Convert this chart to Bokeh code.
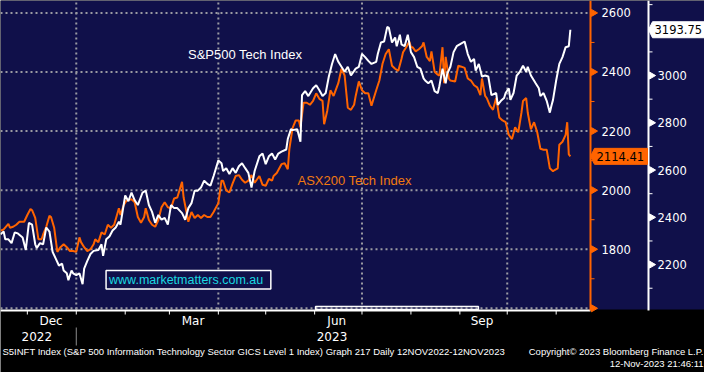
import math
import datetime as dt
from bokeh.plotting import figure
from bokeh.models import Range1d
from bokeh.core.properties import value
from bokeh.embed import file_html
from bokeh.resources import INLINE

# ---------------- data ----------------
asx_dates = [
    "2022-11-14", "2022-11-16", "2022-11-19", "2022-11-20", "2022-11-22", "2022-11-24", "2022-11-26", "2022-11-29",
    "2022-12-01", "2022-12-03", "2022-12-04", "2022-12-06", "2022-12-08", "2022-12-10", "2022-12-11", "2022-12-13",
    "2022-12-15", "2022-12-16", "2022-12-18", "2022-12-20", "2022-12-22", "2022-12-24", "2022-12-26", "2022-12-28",
    "2022-12-30", "2023-01-01", "2023-01-03", "2023-01-04", "2023-01-06", "2023-01-08", "2023-01-10", "2023-01-12",
    "2023-01-13", "2023-01-15", "2023-01-17", "2023-01-19", "2023-01-21", "2023-01-23", "2023-01-25", "2023-01-28",
    "2023-01-29", "2023-01-31", "2023-02-02", "2023-02-05", "2023-02-07", "2023-02-09", "2023-02-11", "2023-02-13",
    "2023-02-14", "2023-02-16", "2023-02-18", "2023-02-20", "2023-02-22", "2023-02-24", "2023-02-26", "2023-02-28",
    "2023-03-02", "2023-03-04", "2023-03-06", "2023-03-09", "2023-03-10", "2023-03-13", "2023-03-15", "2023-03-17",
    "2023-03-19", "2023-03-21", "2023-03-23", "2023-03-25", "2023-03-27", "2023-03-29", "2023-04-01", "2023-04-03",
    "2023-04-04", "2023-04-06", "2023-04-08", "2023-04-10", "2023-04-12", "2023-04-14", "2023-04-16", "2023-04-18",
    "2023-04-20", "2023-04-22", "2023-04-24", "2023-04-27", "2023-04-29", "2023-05-01", "2023-05-03", "2023-05-05",
    "2023-05-06", "2023-05-08", "2023-05-11", "2023-05-13", "2023-05-15", "2023-05-16", "2023-05-18", "2023-05-20",
    "2023-05-22", "2023-05-23", "2023-05-25", "2023-05-27", "2023-05-29", "2023-05-31", "2023-06-02", "2023-06-04",
    "2023-06-06", "2023-06-07", "2023-06-09", "2023-06-11", "2023-06-13", "2023-06-16", "2023-06-18", "2023-06-20",
    "2023-06-22", "2023-06-24", "2023-06-26", "2023-06-27", "2023-06-29", "2023-07-01", "2023-07-03", "2023-07-05",
    "2023-07-07", "2023-07-10", "2023-07-12", "2023-07-14", "2023-07-16", "2023-07-18", "2023-07-20", "2023-07-22",
    "2023-07-24", "2023-07-26", "2023-07-27", "2023-07-29", "2023-07-31", "2023-08-01", "2023-08-02", "2023-08-04",
    "2023-08-06", "2023-08-08", "2023-08-09", "2023-08-11", "2023-08-13", "2023-08-14", "2023-08-16", "2023-08-18",
    "2023-08-19", "2023-08-21", "2023-08-22", "2023-08-23", "2023-08-25", "2023-08-26", "2023-08-29", "2023-08-31",
    "2023-09-02", "2023-09-04", "2023-09-06", "2023-09-08", "2023-09-10", "2023-09-12", "2023-09-14", "2023-09-15",
    "2023-09-17", "2023-09-18", "2023-09-20", "2023-09-22", "2023-09-24", "2023-09-26", "2023-09-28", "2023-09-30",
    "2023-10-02", "2023-10-04", "2023-10-06", "2023-10-08", "2023-10-10", "2023-10-11", "2023-10-13", "2023-10-14",
    "2023-10-16", "2023-10-18", "2023-10-20", "2023-10-22", "2023-10-24", "2023-10-26", "2023-10-28", "2023-10-30",
    "2023-10-31", "2023-11-02", "2023-11-03", "2023-11-05", "2023-11-07", "2023-11-08", "2023-11-09", "2023-11-10",
]
asx_values = [
    1863, 1867, 1886, 1873, 1876, 1883, 1893, 1893,
    1916, 1936, 1932, 1906, 1834, 1834, 1850, 1876,
    1913, 1909, 1873, 1791, 1807, 1817, 1807, 1794,
    1794, 1791, 1840, 1824, 1807, 1794, 1800, 1817,
    1834, 1824, 1857, 1850, 1883, 1873, 1883, 1939,
    1916, 1949, 1966, 1969, 1959, 1909, 1890, 1909,
    1939, 1899, 1883, 1876, 1899, 1942, 1959, 1942,
    1939, 1972, 1975, 2028, 1975, 1893, 1926, 1906,
    1916, 1906, 1916, 1909, 1909, 1926, 1956, 2032,
    2032, 1999, 1992, 2022, 2048, 2051, 2035, 2025,
    2032, 2051, 2025, 2048, 2018, 2015, 2038, 2032,
    2048, 2058, 2088, 2091, 2071, 2140, 2210, 2236,
    2236, 2213, 2296, 2296, 2289, 2302, 2328, 2309,
    2302, 2223, 2269, 2338, 2319, 2362, 2411, 2388,
    2279, 2272, 2289, 2319, 2368, 2338, 2328, 2328,
    2286, 2338, 2371, 2428, 2461, 2477, 2421, 2411,
    2404, 2444, 2467, 2484, 2503, 2484, 2484, 2470,
    2477, 2487, 2500, 2451, 2437, 2470, 2401, 2391,
    2388, 2484, 2362, 2451, 2378, 2371, 2368, 2421,
    2418, 2414, 2378, 2371, 2355, 2348, 2322, 2378,
    2319, 2312, 2286, 2272, 2312, 2246, 2236, 2230,
    2187, 2173, 2213, 2196, 2262, 2302, 2312, 2262,
    2206, 2230, 2196, 2140, 2137, 2137, 2074, 2064,
    2068, 2074, 2154, 2164, 2187, 2230, 2121, 2114.41,
]

spx_dates = [
    "2022-11-14", "2022-11-16", "2022-11-17", "2022-11-19", "2022-11-21", "2022-11-23", "2022-11-25", "2022-11-28",
    "2022-11-30", "2022-12-02", "2022-12-04", "2022-12-06", "2022-12-07", "2022-12-09", "2022-12-11", "2022-12-13",
    "2022-12-15", "2022-12-17", "2022-12-19", "2022-12-21", "2022-12-23", "2022-12-24", "2022-12-26", "2022-12-27",
    "2022-12-29", "2022-12-30", "2023-01-01", "2023-01-03", "2023-01-05", "2023-01-06", "2023-01-08", "2023-01-10",
    "2023-01-12", "2023-01-15", "2023-01-17", "2023-01-18", "2023-01-20", "2023-01-22", "2023-01-24", "2023-01-26",
    "2023-01-28", "2023-01-29", "2023-02-01", "2023-02-03", "2023-02-05", "2023-02-07", "2023-02-09", "2023-02-12",
    "2023-02-14", "2023-02-16", "2023-02-18", "2023-02-20", "2023-02-22", "2023-02-24", "2023-02-26", "2023-02-28",
    "2023-03-02", "2023-03-04", "2023-03-06", "2023-03-09", "2023-03-11", "2023-03-13", "2023-03-15", "2023-03-17",
    "2023-03-19", "2023-03-21", "2023-03-23", "2023-03-25", "2023-03-27", "2023-03-29", "2023-04-01", "2023-04-03",
    "2023-04-04", "2023-04-06", "2023-04-08", "2023-04-10", "2023-04-12", "2023-04-14", "2023-04-16", "2023-04-18",
    "2023-04-20", "2023-04-22", "2023-04-24", "2023-04-27", "2023-04-29", "2023-05-01", "2023-05-03", "2023-05-05",
    "2023-05-07", "2023-05-09", "2023-05-11", "2023-05-14", "2023-05-15", "2023-05-17", "2023-05-18", "2023-05-21",
    "2023-05-23", "2023-05-24", "2023-05-26", "2023-05-28", "2023-05-31", "2023-06-02", "2023-06-04", "2023-06-06",
    "2023-06-08", "2023-06-10", "2023-06-12", "2023-06-14", "2023-06-16", "2023-06-18", "2023-06-20", "2023-06-22",
    "2023-06-24", "2023-06-27", "2023-06-29", "2023-07-01", "2023-07-03", "2023-07-05", "2023-07-07", "2023-07-10",
    "2023-07-11", "2023-07-13", "2023-07-15", "2023-07-17", "2023-07-18", "2023-07-20", "2023-07-22", "2023-07-23",
    "2023-07-25", "2023-07-26", "2023-07-28", "2023-07-30", "2023-08-01", "2023-08-03", "2023-08-05", "2023-08-07",
    "2023-08-09", "2023-08-10", "2023-08-12", "2023-08-14", "2023-08-16", "2023-08-18", "2023-08-19", "2023-08-21",
    "2023-08-23", "2023-08-24", "2023-08-26", "2023-08-28", "2023-08-30", "2023-09-02", "2023-09-04", "2023-09-06",
    "2023-09-08", "2023-09-10", "2023-09-11", "2023-09-13", "2023-09-15", "2023-09-17", "2023-09-19", "2023-09-21",
    "2023-09-24", "2023-09-25", "2023-09-27", "2023-09-29", "2023-09-30", "2023-10-02", "2023-10-03", "2023-10-05",
    "2023-10-07", "2023-10-09", "2023-10-11", "2023-10-13", "2023-10-14", "2023-10-16", "2023-10-19", "2023-10-21",
    "2023-10-22", "2023-10-24", "2023-10-26", "2023-10-28", "2023-10-29", "2023-10-30", "2023-11-01", "2023-11-03",
    "2023-11-05", "2023-11-07", "2023-11-09", "2023-11-10",
]
spx_values = [
    2328, 2340, 2307, 2307, 2291, 2336, 2332, 2315,
    2262, 2377, 2369, 2286, 2270, 2291, 2286, 2357,
    2340, 2254, 2225, 2196, 2204, 2175, 2163, 2134,
    2175, 2163, 2155, 2163, 2117, 2183, 2216, 2245,
    2258, 2262, 2286, 2237, 2307, 2319, 2344, 2357,
    2381, 2369, 2493, 2468, 2505, 2472, 2452, 2505,
    2513, 2452, 2423, 2377, 2410, 2390, 2398, 2369,
    2452, 2439, 2439, 2418, 2390, 2439, 2460, 2513,
    2513, 2526, 2555, 2542, 2534, 2575, 2641, 2629,
    2596, 2608, 2583, 2608, 2588, 2616, 2629, 2608,
    2588, 2526, 2596, 2658, 2670, 2625, 2658, 2670,
    2645, 2670, 2678, 2687, 2732, 2773, 2769, 2773,
    2720, 2917, 2934, 2913, 2946, 2959, 2938, 2913,
    2926, 2996, 3049, 3091, 3058, 3037, 3016, 3037,
    3000, 3029, 3037, 3091, 3078, 3062, 3049, 3058,
    3091, 3140, 3144, 3206, 3202, 3140, 3161, 3124,
    3173, 3132, 3124, 3173, 3099, 3078, 3037, 3029,
    2988, 2979, 2967, 2979, 2934, 2926, 2955, 3029,
    2967, 3008, 3037, 3099, 3124, 3136, 3144, 3091,
    3058, 3070, 3021, 3049, 2996, 3000, 2996, 2917,
    2926, 2876, 2893, 2905, 2926, 2946, 2897, 2926,
    3000, 3016, 3041, 3016, 3037, 3000, 2967, 2946,
    2913, 2926, 2893, 2843, 2872, 2897, 2979, 3049,
    3078, 3120, 3124, 3193.75,
]

asx_ticks = [1600, 1800, 2000, 2200, 2400, 2600]
asx_tick_labels = ["", "1800", "2000", "2200", "2400", "2600"]
asx_minor_ticks = [1700, 1900, 2100, 2300, 2500]
spx_ticks = [2200, 2400, 2600, 2800, 3000]
spx_tick_labels = ["2200", "2400", "2600", "2800", "3000"]
spx_minor_ticks = [2100, 2300, 2500, 2700, 2900, 3100, 3300]
month_starts = ["2022-12-01", "2023-01-01", "2023-02-01", "2023-03-01", "2023-04-01", "2023-05-01",
                "2023-06-01", "2023-07-01", "2023-08-01", "2023-09-01", "2023-10-01", "2023-11-01"]
month_label_dates = ["2022-12-16", "2023-03-16", "2023-06-15", "2023-09-15"]
month_labels = ["Dec", "Mar", "Jun", "Sep"]
quarter_grid_dates = ["2023-01-01", "2023-04-01", "2023-07-01", "2023-10-01"]
year_label_dates = ["2022-12-07", "2023-06-12"]
year_labels = ["2022", "2023"]
year_break_date = "2023-01-01"
asx_last = 2114.41
spx_last = 3193.75
highlight_start = "2023-06-01 14:00"
highlight_end = "2023-09-12 18:00"
series_names = ["S&P500 Tech Index", "ASX200 Tech Index"]
watermark = "www.marketmatters.com.au"
footer_left = "S5INFT Index (S&P 500 Information Technology Sector GICS Level 1 Index) Graph 217  Daily 12NOV2022-12NOV2023"
footer_right = "Copyright\u00a9 2023 Bloomberg Finance L.P."
footer_stamp = "12-Nov-2023 21:46:11"

# ---------------- style / layout ----------------
NAVY = "#10104a"
ORANGE = "#ff6400"
ORANGE_TXT = "#f07a10"
CYAN = "#1ad8e0"
GRID = "#9a9aa2"
SEP = "#8c8c8c"
BB = "DejaVu Sans"
ARIAL = "Liberation Sans"
FOOT = "Liberation Sans"

W, H = 704, 372          # canvas
PW, PH = 590, 309        # chart panel (px)
AX2 = 648                # x of the second (S&P) axis line (px)
REF_W, REF_H = 598, 317  # reference panel size, for in-panel label placement

X0 = dt.datetime(2022, 11, 14)
X1 = dt.datetime(2023, 11, 22, 18)
Y0, Y1 = 1596, 2642
S0, S1 = 2010, 3317.5


def d(s):
    return dt.datetime.fromisoformat(s)


def ms(t):
    return (t - dt.datetime(1970, 1, 1)).total_seconds() * 1000.0


XS = (ms(X1) - ms(X0)) / PW   # ms per px
YS = (Y1 - Y0) / PH           # asx units per px
SS = (S1 - S0) / PH           # spx units per px


def X(px):
    return ms(X0) + px * XS


def Y(py):
    return Y1 - py * YS


def XR(px):
    return X(px * PW / REF_W)


def YR(py):
    return Y(py * PH / REF_H)


p = figure(width=W, height=H, output_backend="svg", toolbar_location=None,
           x_axis_location=None, y_axis_location=None,
           x_range=Range1d(X(0), X(W)), y_range=Range1d(Y(H), Y(0)),
           background_fill_color="black", border_fill_color="black",
           outline_line_color=None, min_border=0)
p.extra_y_ranges = {"spx": Range1d(S0 - (H - PH) * SS, S1)}
p.grid.visible = False

# navy panel (chart + right scale area)
p.quad(left=[X(0)], right=[X(W)], bottom=[Y0], top=[Y1], fill_color=NAVY, line_color=None)

# dotted grid
p.segment(x0=[X(0)] * len(asx_ticks), x1=[X(PW)] * len(asx_ticks), y0=asx_ticks, y1=asx_ticks,
          line_color=GRID, line_width=2, line_dash="2 3")
qg = [ms(d(s)) for s in quarter_grid_dates]
p.segment(x0=qg, x1=qg, y0=[Y0] * len(qg), y1=[Y1] * len(qg),
          line_color=GRID, line_width=2, line_dash="2 3")

# highlight frame on the bottom edge
p.quad(left=[ms(d(highlight_start))], right=[ms(d(highlight_end))], top=[Y(PH - 3)], bottom=[Y(PH)],
       fill_color=None, line_color="white", line_width=1.5)

# series
p.line([d(s) for s in asx_dates], asx_values, line_color=ORANGE, line_width=2)
p.line([d(s) for s in spx_dates], spx_values, y_range_name="spx", line_color="white", line_width=2)

# ---- bottom axis ----
p.segment(x0=[X(0)], x1=[X(PW)], y0=[Y(PH + 1)], y1=[Y(PH + 1)], line_color="white", line_width=2)
msx = [ms(d(s)) for s in month_starts]
p.segment(x0=msx, x1=msx, y0=[Y(PH + 1)] * len(msx), y1=[Y(PH + 5)] * len(msx),
          line_color="white", line_width=1)
p.text(x=[ms(d(s)) for s in month_label_dates], y=[Y(PH + 11)] * len(month_labels), text=month_labels,
       text_color="white", text_font=value(BB), text_font_size="12px",
       text_align="center", text_baseline="middle")
p.text(x=[ms(d(s)) for s in year_label_dates], y=[Y(PH + 27)] * len(year_labels), text=year_labels,
       text_color="white", text_font=value(BB), text_font_size="12px",
       text_align="center", text_baseline="middle")
yb = ms(d(year_break_date))
p.segment(x0=[yb], x1=[yb], y0=[Y(PH + 18)], y1=[Y(PH + 36)], line_color=SEP, line_width=1)

# ---- ASX (orange) axis ----
p.segment(x0=[X(PW)], x1=[X(PW)], y0=[Y(PH + 1)], y1=[Y(0)], line_color=ORANGE, line_width=2)
p.scatter(x=[X(PW + 3)] * len(asx_ticks), y=asx_ticks, marker="triangle", size=7,
          angle=-math.pi / 2, fill_color=ORANGE, line_color=ORANGE)
p.segment(x0=[X(PW)] * len(asx_minor_ticks), x1=[X(PW + 4)] * len(asx_minor_ticks),
          y0=asx_minor_ticks, y1=asx_minor_ticks, line_color=ORANGE, line_width=1)
p.text(x=[X(PW + 11)] * len(asx_ticks), y=asx_ticks, text=asx_tick_labels,
       text_color="white", text_font=value(BB), text_font_size="11.5px", text_baseline="middle")

# ---- S&P (white) axis ----
p.segment(x0=[X(AX2)], x1=[X(AX2)], y0=[Y(PH + 1)], y1=[Y(0)], line_color="white", line_width=2)
p.scatter(x=[X(AX2 + 3)] * len(spx_ticks), y=spx_ticks, y_range_name="spx", marker="triangle", size=7,
          angle=-math.pi / 2, fill_color="white", line_color="white")
p.segment(x0=[X(AX2)] * len(spx_minor_ticks), x1=[X(AX2 + 4)] * len(spx_minor_ticks),
          y0=spx_minor_ticks, y1=spx_minor_ticks, y_range_name="spx", line_color="white", line_width=1)
p.text(x=[X(AX2 + 9)] * len(spx_ticks), y=spx_ticks, y_range_name="spx", text=spx_tick_labels,
       text_color="white", text_font=value(BB), text_font_size="11.5px", text_baseline="middle")

# ---- last value tags ----
ah = 8 * YS
p.patch(x=[X(PW), X(PW + 4), X(AX2 - 1), X(AX2 - 1), X(PW + 4)],
        y=[asx_last, asx_last + ah, asx_last + ah, asx_last - ah, asx_last - ah],
        fill_color=ORANGE, line_color=ORANGE)
p.text(x=[X(PW + 6)], y=[asx_last], text=[f"{asx_last:.2f}"], text_color="black",
       text_font=value(BB), text_font_size="11.5px", text_baseline="middle")
sh = 8 * SS
p.patch(x=[X(AX2), X(AX2 + 4), X(W), X(W), X(AX2 + 4)],
        y=[spx_last, spx_last + sh, spx_last + sh, spx_last - sh, spx_last - sh],
        y_range_name="spx", fill_color="white", line_color="white")
p.text(x=[X(AX2 + 6)], y=[spx_last], y_range_name="spx", text=[f"{spx_last:.2f}"], text_color="black",
       text_font=value(BB), text_font_size="11.5px", text_baseline="middle")

# ---- in-chart labels ----
p.text(x=[XR(190)], y=[YR(55)], text=[series_names[0]], text_color="white",
       text_font=value(ARIAL), text_font_size="13px", text_baseline="middle")
p.text(x=[XR(301)], y=[YR(185)], text=[series_names[1]], text_color=ORANGE_TXT,
       text_font=value(ARIAL), text_font_size="13px", text_baseline="middle")
p.quad(left=[XR(107)], right=[XR(274)], bottom=[YR(296)], top=[YR(277)],
       fill_color=NAVY, line_color="white", line_width=1.5)
p.text(x=[XR(110)], y=[YR(286.5)], text=[watermark], text_color=CYAN,
       text_font=value(ARIAL), text_font_size="12.5px", text_baseline="middle")

# ---- footer ----
p.text(x=[X(2)], y=[Y(PH + 42)], text=[footer_left], text_color="white",
       text_font=value(FOOT), text_font_size="9.5px", text_baseline="middle")
p.text(x=[X(W - 1)], y=[Y(PH + 42)], text=[footer_right], text_color="white",
       text_font=value(FOOT), text_font_size="9.5px", text_align="right", text_baseline="middle")
p.text(x=[X(W - 1)], y=[Y(PH + 54)], text=[footer_stamp], text_color="white",
       text_font=value(FOOT), text_font_size="9.5px", text_align="right", text_baseline="middle")

open("out.html", "w").write(file_html(p, INLINE))
